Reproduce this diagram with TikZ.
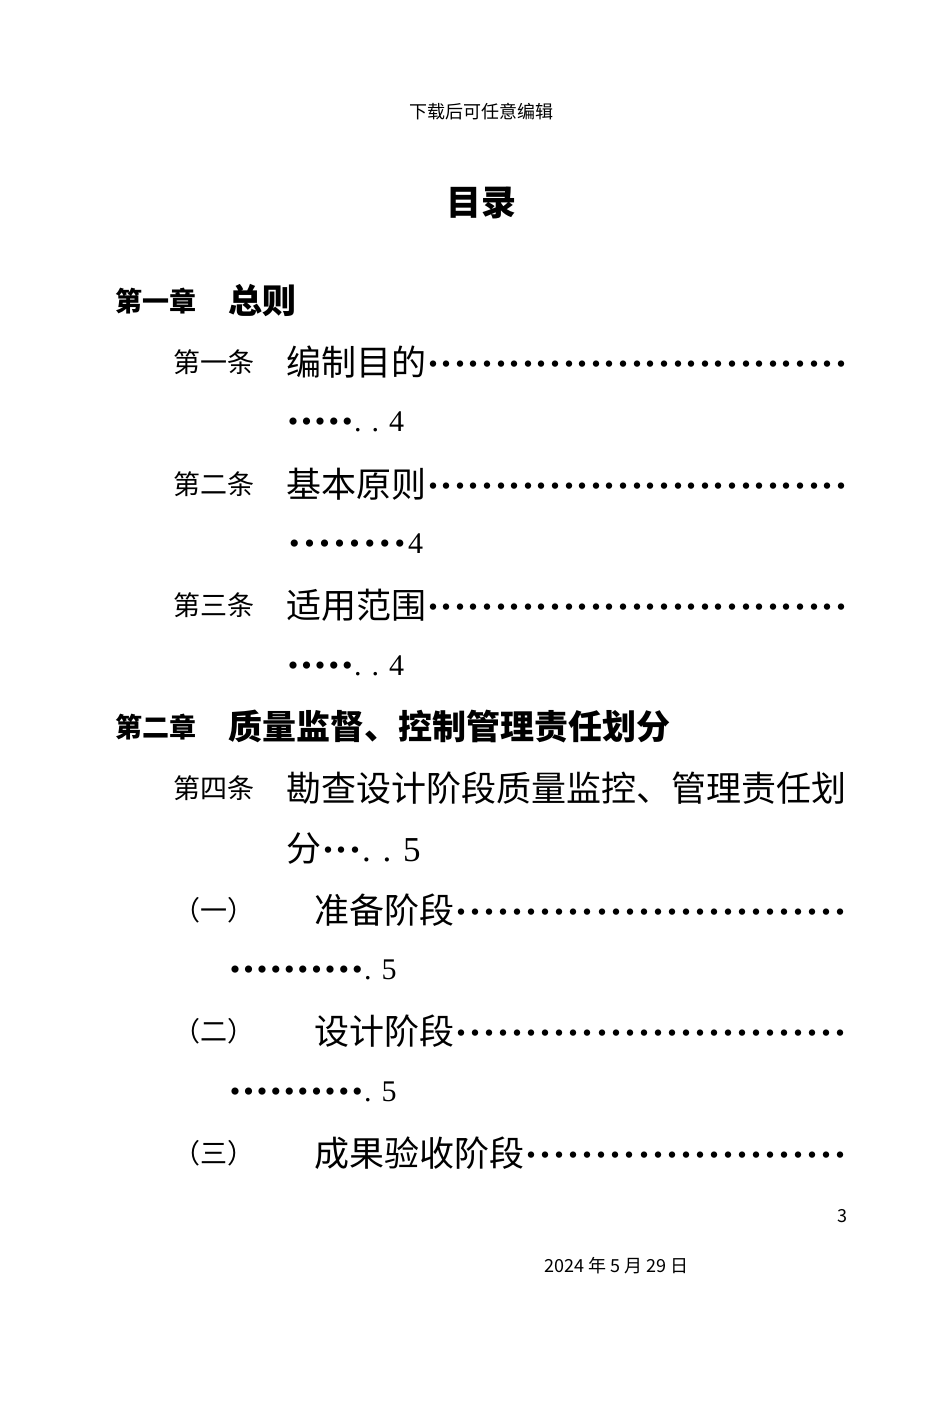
\documentclass[tikz,border=0pt]{standalone}
\usepackage{fontspec}
\setmainfont{Noto Sans CJK SC}
\newfontfamily\lat{Liberation Serif}
\newcommand{\tocdots}[1]{\hbox to #1{\xleaders\hbox to 13.6pt{\hss\fontsize{30}{30}\selectfont •\hss}\hfill}}
\begin{document}
\begin{tikzpicture}[x=1pt,y=-1pt,
  every node/.style={inner sep=0pt,anchor=west,text=black},
  hdr/.style={font=\fontsize{18}{18}\selectfont},
  ttl/.style={font=\fontsize{35}{35}\selectfont\bfseries},
  chap/.style={font=\fontsize{27}{27}\selectfont\bfseries},
  chapt/.style={font=\fontsize{34}{34}\selectfont\bfseries},
  art/.style={font=\fontsize{27}{27}\selectfont},
  ent/.style={font=\fontsize{35}{35}\selectfont},
  num/.style={font=\fontsize{30}{30}\selectfont\lat}]
\useasboundingbox (0,0) rectangle (950,1426);
\node[hdr,anchor=center] (h) at (481,112) {下载后可任意编辑};
\node[ttl,anchor=center] (t) at (481,203) {目录};
\node[chap] (c1) at (115,301) {第一章};
\node[chapt] (c1t) at (228,301) {总则};
\node[art] (a1) at (173,362) {第一条};
\node[ent] (e1) at (286,362) {编制目的\tocdots{422pt}};
\node[num] (n1) at (286,422) {\tocdots{68pt}. . 4};
\node[art] (a2) at (173,484) {第二条};
\node[ent] (e2) at (286,484) {基本原则\tocdots{422pt}};
\node[num] (n2) at (286,544) {\tocdots{122pt}4};
\node[art] (a3) at (173,605) {第三条};
\node[ent] (e3) at (286,605) {适用范围\tocdots{422pt}};
\node[num] (n3) at (286,666) {\tocdots{68pt}. . 4};
\node[chap] (c2) at (115,727) {第二章};
\node[chapt] (c2t) at (228,727) {质量监督、控制管理责任划分};
\node[art] (a4) at (173,788) {第四条};
\node[ent] (e4) at (286,788) {勘查设计阶段质量监控、管理责任划};
\node[ent] (e4b) at (286,849) {分\tocdots{41pt}{\lat . . 5}};
\node[art] (p1) at (173,910) {（一）};
\node[ent] (e5) at (314,910) {准备阶段\tocdots{394pt}};
\node[num] (n5) at (228,970) {\tocdots{136pt}. 5};
\node[art] (p2) at (173,1031) {（二）};
\node[ent] (e6) at (314,1031) {设计阶段\tocdots{394pt}};
\node[num] (n6) at (228,1092) {\tocdots{136pt}. 5};
\node[art] (p3) at (173,1153) {（三）};
\node[ent] (e7) at (314,1153) {成果验收阶段\tocdots{324pt}};
\node[hdr,anchor=east] (pg) at (848,1216) {3};
\node[hdr] (d) at (544,1266) {2024 年 5 月 29 日};
\end{tikzpicture}
\end{document}
